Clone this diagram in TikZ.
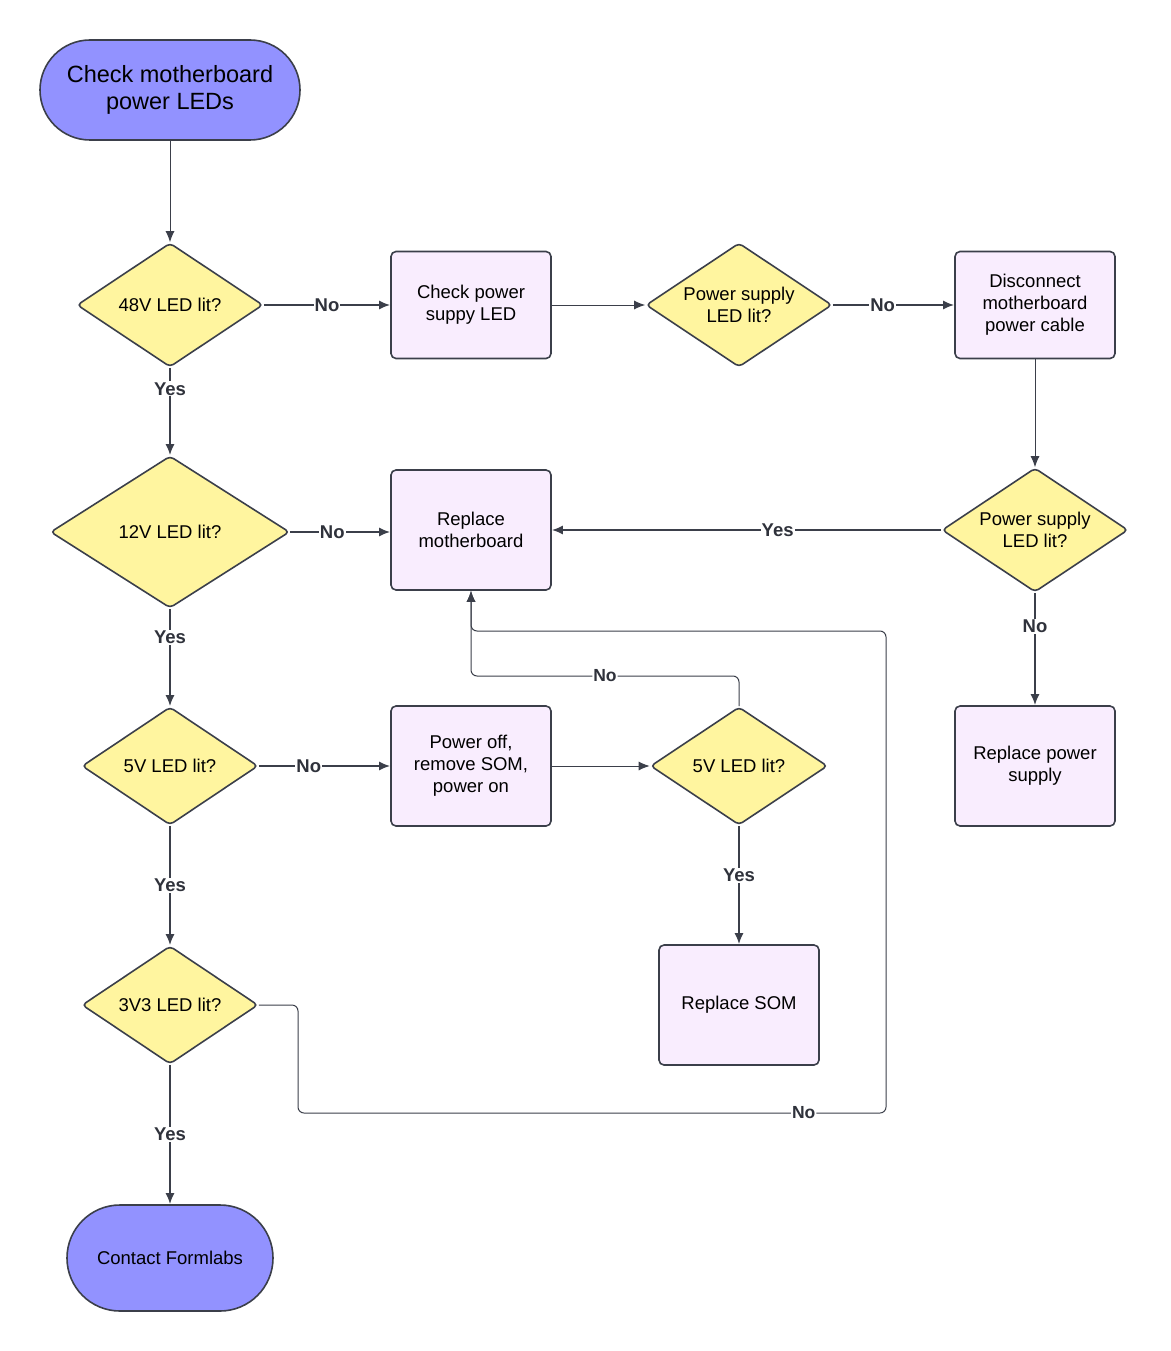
\documentclass[tikz,border=0pt]{standalone}
\usepackage{fontspec}
\setmainfont{Liberation Sans}
\usepackage{tikz}
\usetikzlibrary{shapes.geometric,arrows.meta}
\definecolor{edgegray}{HTML}{3B3F4A}
\definecolor{termblue}{HTML}{9292FF}
\definecolor{decyellow}{HTML}{FFF59F}
\definecolor{steplilac}{HTML}{F9EDFE}

\begin{document}
\begin{tikzpicture}[x=1pt,y=-1pt,
    >={Latex[length=11pt,width=9pt]},
    every node/.style={font=\fontsize{18.5}{22}\selectfont, text=black},
    term/.style={draw=edgegray, line width=1.6pt, fill=termblue, rounded corners=50pt,
        minimum width=260pt, minimum height=100pt, align=center},
    decide/.style={draw=edgegray, line width=1.6pt, fill=decyellow, diamond, aspect=1.5,
        inner sep=0pt, minimum width=186pt, minimum height=124pt, align=center, rounded corners=4pt},
    stepbox/.style={draw=edgegray, line width=1.6pt, fill=steplilac, rounded corners=5pt,
        minimum width=160pt, minimum height=120pt, align=center},
    link/.style={draw=edgegray, line width=1.8pt, ->},
    thinlink/.style={draw=edgegray, line width=1pt, ->},
    tag/.style={fill=white, inner sep=1pt, font=\fontsize{18.5}{20}\selectfont\bfseries, text=edgegray!80!black}]
        \useasboundingbox (0,0) rectangle (1170,1351);

        % start and end
        \node[term, font=\fontsize{23.5}{27}\selectfont] (start) at (170,90) {Check motherboard\\power LEDs};
        \node[term, minimum width=206pt, minimum height=106pt, rounded corners=53pt] (contact) at (170,1258) {Contact Formlabs};

        % questions
        \node[decide] (q48) at (170,305) {48V LED lit?};
        \node[decide, minimum width=239pt, minimum height=152pt] (q12) at (170,532) {12V LED lit?};
        \node[decide, minimum width=176pt, minimum height=118pt] (q5) at (170,766) {5V LED lit?};
        \node[decide, minimum width=176pt, minimum height=118pt] (q33) at (170,1005) {3V3 LED lit?};
        \node[decide] (qps) at (739,305) {Power supply\\LED lit?};
        \node[decide] (qpsb) at (1035,530) {Power supply\\LED lit?};
        \node[decide, minimum width=177pt, minimum height=118pt] (q5b) at (739,766) {5V LED lit?};

        % actions
        \node[stepbox, minimum height=107pt] (checkps) at (471,305) {Check power\\suppy LED};
        \node[stepbox, minimum height=107pt] (unplug) at (1035,305) {Disconnect\\motherboard\\power cable};
        \node[stepbox] (newmb) at (471,530) {Replace\\motherboard};
        \node[stepbox] (newps) at (1035,766) {Replace power\\supply};
        \node[stepbox] (nosom) at (471,766) {Power off,\\remove SOM,\\power on};
        \node[stepbox] (newsom) at (739,1005) {Replace SOM};

        % main column
        \draw[thinlink] (start) -- (q48);
        \draw[link] (q48) -- node[tag, pos=0.24] {Yes} (q12);
        \draw[link] (q12) -- node[tag, pos=0.29] {Yes} (q5);
        \draw[link] (q5) -- node[tag] {Yes} (q33);
        \draw[link] (q33) -- node[tag] {Yes} (contact);

        % power supply branch
        \draw[link] (q48) -- node[tag] {No} (checkps);
        \draw[thinlink] (checkps) -- (qps);
        \draw[link] (qps) -- node[tag, pos=0.41] {No} (unplug);
        \draw[thinlink] (unplug) -- (qpsb);
        \draw[link] (qpsb) -- node[tag, pos=0.42] {Yes} (newmb);
        \draw[link] (qpsb) -- node[tag, pos=0.3] {No} (newps);

        % motherboard / SOM branch
        \draw[link] (q12.east) -- node[tag, pos=0.42] {No} (newmb.west |- q12.east);
        \draw[link] (q5) -- node[tag, pos=0.38] {No} (nosom);
        \draw[thinlink] (nosom) -- (q5b);
        \draw[link] (q5b) -- node[tag, pos=0.42] {Yes} (newsom);

        % loops back to motherboard
        \coordinate (turnA) at (739,676);
        \coordinate (turnB) at (298,1113);
        \coordinate (turnC) at (886,631);
        \draw[thinlink, rounded corners=6pt] (q5b.north) -- (turnA)
            -- node[tag, font=\fontsize{17.5}{20}\selectfont\bfseries] {No} (newmb.south |- turnA) -- (newmb.south);
        \draw[thinlink, rounded corners=6pt] (q33.east) -- (turnB |- q33.east) -- (turnB)
            -- node[tag, pos=0.86, font=\fontsize{17.5}{20}\selectfont\bfseries] {No} (turnC |- turnB)
            -- (turnC) -- (newmb.south |- turnC) -- (newmb.south);
    \end{tikzpicture}
\end{document}
